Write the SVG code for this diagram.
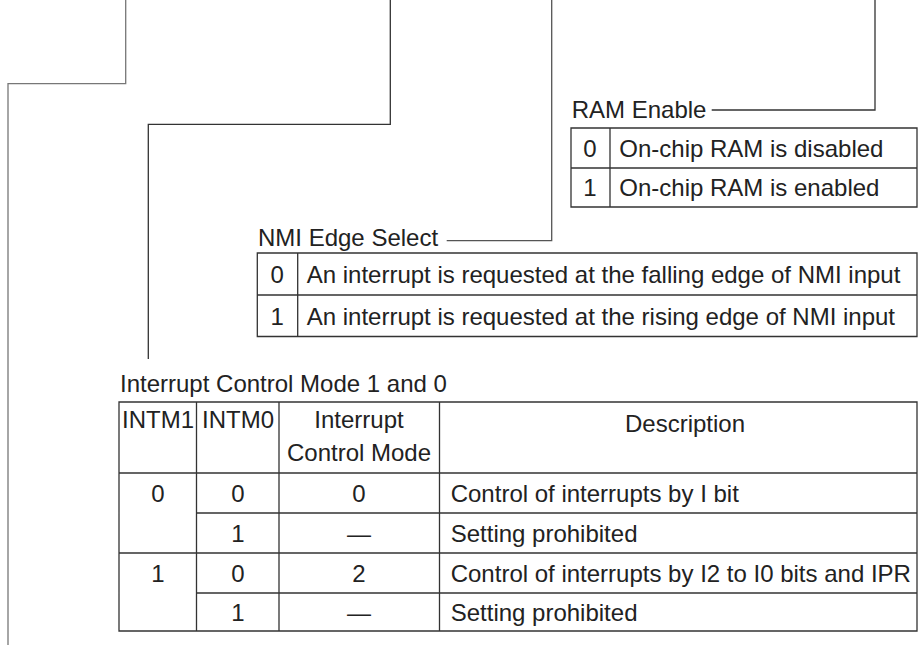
<svg xmlns="http://www.w3.org/2000/svg" width="918" height="645" viewBox="0 0 918 645">
<style>
text{font-family:"Liberation Sans",Arial,sans-serif;font-size:24px;fill:#222}
.m{text-anchor:middle}
.conn{fill:none;stroke-width:1.3}
.tb{fill:none;stroke:#333;stroke-width:1.3}
</style>
<rect width="918" height="645" fill="#fff"/>
<g id="connectors">
<path class="conn" stroke="#777" d="M125.7 0V83.7H8V645"/>
<path class="conn" stroke="#333" d="M390.3 0V124.3H148.3V359"/>
<path class="conn" stroke="#555" d="M551.7 0V240.7H446.7"/>
<path class="conn" stroke="#333" d="M875 0V110H711.7"/>
</g>
<g id="ram-enable">
<text x="571.7" y="118">RAM Enable</text>
<path class="tb" d="M571 128H917V207H571Z M571 168H917 M610 128V207"/>
<text class="m" x="590" y="156.7">0</text>
<text x="619.3" y="156.7">On-chip RAM is disabled</text>
<text class="m" x="590" y="196">1</text>
<text x="619.3" y="196">On-chip RAM is enabled</text>
</g>
<g id="nmi-edge-select">
<text x="258" y="246">NMI Edge Select</text>
<path class="tb" d="M257.3 253H917V336.5H257.3Z M257.3 295H917 M297.7 253V336.5"/>
<text class="m" x="277.3" y="283">0</text>
<text x="306.7" y="283">An interrupt is requested at the falling edge of NMI input</text>
<text class="m" x="277.3" y="324.5">1</text>
<text x="306.7" y="324.5">An interrupt is requested at the rising edge of NMI input</text>
</g>
<g id="interrupt-control-mode">
<text x="120" y="392">Interrupt Control Mode 1 and 0</text>
<path class="tb" d="M119 402H917V631H119Z M119 473H917 M196.5 513H917 M119 553H917 M196.5 593H917 M196.5 402V631 M279 402V631 M439.5 402V631"/>
<text class="m" x="158" y="428">INTM1</text>
<text class="m" x="238" y="428">INTM0</text>
<text class="m" x="359" y="428">Interrupt</text>
<text class="m" x="359" y="461">Control Mode</text>
<text class="m" x="685" y="432">Description</text>
<text class="m" x="158" y="501.5">0</text>
<text class="m" x="238" y="501.5">0</text>
<text class="m" x="359" y="501.5">0</text>
<text x="450.7" y="501.5">Control of interrupts by I bit</text>
<text class="m" x="238" y="541.5">1</text>
<text class="m" x="359" y="541.5">—</text>
<text x="450.7" y="541.5">Setting prohibited</text>
<text class="m" x="158" y="581.5">1</text>
<text class="m" x="238" y="581.5">0</text>
<text class="m" x="359" y="581.5">2</text>
<text x="450.7" y="581.5">Control of interrupts by I2 to I0 bits and IPR</text>
<text class="m" x="238" y="620.5">1</text>
<text class="m" x="359" y="620.5">—</text>
<text x="450.7" y="620.5">Setting prohibited</text>
</g>
</svg>
